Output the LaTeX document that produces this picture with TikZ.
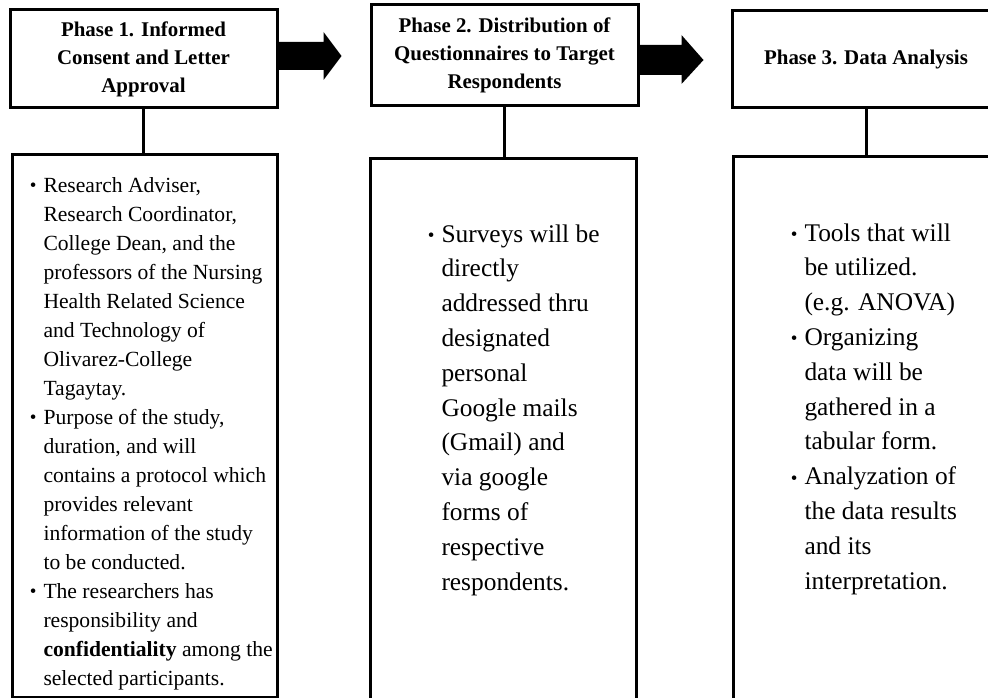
\documentclass[tikz,border=0pt]{standalone}
\usepackage{fontspec}
\setmainfont{Liberation Serif}
\usepackage{tikz}

\newcommand{\dotitem}{\llap{\raisebox{0.05ex}{\fontsize{19}{19}\selectfont\textbullet}\hspace{7pt}}}

\begin{document}
\begin{tikzpicture}[x=1pt, y=-1pt, line width=3pt,
  phase/.style={draw=black, minimum width=267, minimum height=98, inner sep=0pt,
    align=center, font=\fontsize{20.9}{28}\selectfont\bfseries},
  body/.style={draw=black, minimum width=266, inner sep=0pt},
  small text/.style={anchor=north west, inner sep=0pt, align=left,
    font=\fontsize{21.6}{29}\selectfont},
  big text/.style={anchor=north west, inner sep=0pt, align=left,
    font=\fontsize{25.4}{34.8}\selectfont}]
\useasboundingbox (0,0) rectangle (988,698) ;
% phase headers
\node[phase] (h1) at (143.5,59) {Phase 1. Informed\\Consent and Letter\\Approval} ;
\node[phase, minimum height=101] (h2) at (504.5,55.5) {Phase 2. Distribution of\\Questionnaires to Target\\Respondents} ;
\node[phase, minimum height=97] (h3) at (866,59.5) {Phase 3. Data Analysis} ;
% boxes below
\node[body, minimum width=265, minimum height=542] (b1) at (144.5,426) {} ;
\node[body, minimum height=561] (b2) at (503,439.5) {} ;
\node[body, minimum height=563] (b3) at (866,438.5) {} ;
\draw[black] (h1.south) -- (h1.south |- b1.north) ;
\draw[black] (h2.south) -- (h2.south |- b2.north) ;
\draw[black] (h3.south) -- (h3.south |- b3.north) ;
% block arrows
\fill[black] (h1.east) ++(0,-17) -- ++(45,0) -- ++(0,-10) -- ++(18,24) -- ++(-18,24) -- ++(0,-10) -- ++(-45,0) -- cycle ;
\fill[black] (h2.east) ++(0,-10.5) -- ++(42,0) -- ++(0,-10) -- ++(22,25) -- ++(-22,24) -- ++(0,-9) -- ++(-42,0) -- cycle ;
% texts
\node[small text] (t1) at (42,176) {\dotitem Research Adviser,\\
Research Coordinator,\\
College Dean, and the\\
professors of the Nursing\\
Health Related Science\\
and Technology of\\
Olivarez-College\\
Tagaytay.\\
\dotitem Purpose of the study,\\
duration, and will\\
contains a protocol which\\
provides relevant\\
information of the study\\
to be conducted.\\
\dotitem The researchers has\\
responsibility and\\
\textbf{confidentiality} among the\\
selected participants.} ;
\node[big text] (t2) at (440,223) {\dotitem Surveys will be\\
directly\\
addressed thru\\
designated\\
personal\\
Google mails\\
(Gmail) and\\
via google\\
forms of\\
respective\\
respondents.} ;
\node[big text] (t3) at (803,222) {\dotitem Tools that will\\
be utilized.\\
(e.g. ANOVA)\\
\dotitem Organizing\\
data will be\\
gathered in a\\
tabular form.\\
\dotitem Analyzation of\\
the data results\\
and its\\
interpretation.} ;
\end{tikzpicture}
\end{document}
